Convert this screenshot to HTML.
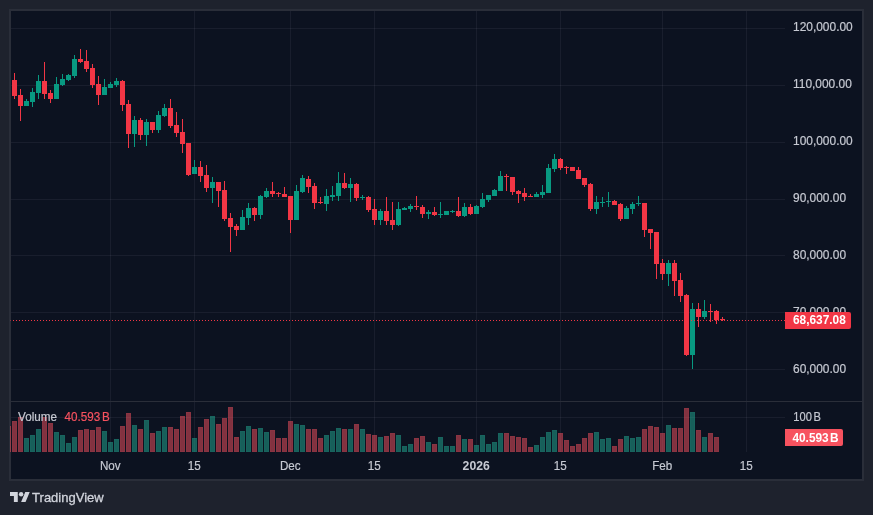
<!DOCTYPE html>
<html lang="en"><head><meta charset="utf-8"><title>TradingView Chart</title>
<style>
html,body{margin:0;padding:0;background:#1e222d;}
body{width:873px;height:515px;overflow:hidden;position:relative;font-family:"Liberation Sans",Arial,sans-serif;}
svg{position:absolute;left:0;top:0;display:block}
text{font-family:"Liberation Sans",Arial,sans-serif;font-size:12px;fill:#c6c9d2;}
.ax{font-size:12.5px;stroke:#c6c9d2;stroke-width:0.2px}
.b{font-weight:bold;fill:#fff;stroke:none}
</style></head><body>
<svg width="873" height="515" viewBox="0 0 873 515">
<rect x="0" y="0" width="873" height="515" fill="#1e222d"/>
<rect x="9" y="9" width="855" height="472" fill="#2a2e39"/>
<rect x="11" y="11" width="851" height="468" fill="#0c1220"/>
<g shape-rendering="crispEdges">
<rect x="11" y="28" width="774" height="1" fill="rgba(240,243,250,0.06)"/>
<rect x="11" y="85" width="774" height="1" fill="rgba(240,243,250,0.06)"/>
<rect x="11" y="142" width="774" height="1" fill="rgba(240,243,250,0.06)"/>
<rect x="11" y="199" width="774" height="1" fill="rgba(240,243,250,0.06)"/>
<rect x="11" y="255" width="774" height="1" fill="rgba(240,243,250,0.06)"/>
<rect x="11" y="312" width="774" height="1" fill="rgba(240,243,250,0.06)"/>
<rect x="11" y="369" width="774" height="1" fill="rgba(240,243,250,0.06)"/>
<rect x="11" y="417" width="774" height="1" fill="rgba(240,243,250,0.06)"/>
<rect x="110" y="11" width="1" height="441" fill="rgba(240,243,250,0.06)"/>
<rect x="194" y="11" width="1" height="441" fill="rgba(240,243,250,0.06)"/>
<rect x="290" y="11" width="1" height="441" fill="rgba(240,243,250,0.06)"/>
<rect x="374" y="11" width="1" height="441" fill="rgba(240,243,250,0.06)"/>
<rect x="476" y="11" width="1" height="441" fill="rgba(240,243,250,0.06)"/>
<rect x="560" y="11" width="1" height="441" fill="rgba(240,243,250,0.06)"/>
<rect x="662" y="11" width="1" height="441" fill="rgba(240,243,250,0.06)"/>
<rect x="746" y="11" width="1" height="441" fill="rgba(240,243,250,0.06)"/>
<rect x="11" y="401" width="851" height="1" fill="#2a2e39"/>
<rect x="10" y="426" width="1" height="26" fill="rgba(247,82,95,0.5)"/>
<rect x="12" y="421" width="5" height="31" fill="rgba(247,82,95,0.5)"/>
<rect x="18" y="417" width="5" height="35" fill="rgba(247,82,95,0.5)"/>
<rect x="24" y="438" width="5" height="14" fill="rgba(34,171,148,0.5)"/>
<rect x="30" y="435" width="5" height="17" fill="rgba(34,171,148,0.5)"/>
<rect x="36" y="429" width="5" height="23" fill="rgba(34,171,148,0.5)"/>
<rect x="42" y="417" width="5" height="35" fill="rgba(247,82,95,0.5)"/>
<rect x="48" y="423" width="5" height="29" fill="rgba(247,82,95,0.5)"/>
<rect x="54" y="432" width="5" height="20" fill="rgba(34,171,148,0.5)"/>
<rect x="60" y="435" width="5" height="17" fill="rgba(34,171,148,0.5)"/>
<rect x="66" y="443" width="5" height="9" fill="rgba(34,171,148,0.5)"/>
<rect x="72" y="437" width="5" height="15" fill="rgba(34,171,148,0.5)"/>
<rect x="78" y="430" width="5" height="22" fill="rgba(247,82,95,0.5)"/>
<rect x="84" y="429" width="5" height="23" fill="rgba(247,82,95,0.5)"/>
<rect x="90" y="430" width="5" height="22" fill="rgba(247,82,95,0.5)"/>
<rect x="96" y="427" width="5" height="25" fill="rgba(247,82,95,0.5)"/>
<rect x="102" y="431" width="5" height="21" fill="rgba(34,171,148,0.5)"/>
<rect x="108" y="442" width="5" height="10" fill="rgba(34,171,148,0.5)"/>
<rect x="114" y="439" width="5" height="13" fill="rgba(34,171,148,0.5)"/>
<rect x="120" y="426" width="5" height="26" fill="rgba(247,82,95,0.5)"/>
<rect x="126" y="413" width="5" height="39" fill="rgba(247,82,95,0.5)"/>
<rect x="132" y="425" width="5" height="27" fill="rgba(34,171,148,0.5)"/>
<rect x="138" y="429" width="5" height="23" fill="rgba(247,82,95,0.5)"/>
<rect x="144" y="420" width="5" height="32" fill="rgba(34,171,148,0.5)"/>
<rect x="150" y="433" width="5" height="19" fill="rgba(247,82,95,0.5)"/>
<rect x="156" y="431" width="5" height="21" fill="rgba(34,171,148,0.5)"/>
<rect x="162" y="427" width="5" height="25" fill="rgba(34,171,148,0.5)"/>
<rect x="168" y="427" width="5" height="25" fill="rgba(247,82,95,0.5)"/>
<rect x="174" y="429" width="5" height="23" fill="rgba(247,82,95,0.5)"/>
<rect x="180" y="416" width="5" height="36" fill="rgba(247,82,95,0.5)"/>
<rect x="186" y="412" width="5" height="40" fill="rgba(247,82,95,0.5)"/>
<rect x="192" y="438" width="5" height="14" fill="rgba(34,171,148,0.5)"/>
<rect x="198" y="427" width="5" height="25" fill="rgba(247,82,95,0.5)"/>
<rect x="204" y="419" width="5" height="33" fill="rgba(247,82,95,0.5)"/>
<rect x="210" y="416" width="5" height="36" fill="rgba(34,171,148,0.5)"/>
<rect x="216" y="424" width="5" height="28" fill="rgba(247,82,95,0.5)"/>
<rect x="222" y="418" width="5" height="34" fill="rgba(247,82,95,0.5)"/>
<rect x="228" y="407" width="5" height="45" fill="rgba(247,82,95,0.5)"/>
<rect x="234" y="437" width="5" height="15" fill="rgba(247,82,95,0.5)"/>
<rect x="240" y="431" width="5" height="21" fill="rgba(34,171,148,0.5)"/>
<rect x="246" y="426" width="5" height="26" fill="rgba(34,171,148,0.5)"/>
<rect x="252" y="429" width="5" height="23" fill="rgba(247,82,95,0.5)"/>
<rect x="258" y="428" width="5" height="24" fill="rgba(34,171,148,0.5)"/>
<rect x="264" y="432" width="5" height="20" fill="rgba(34,171,148,0.5)"/>
<rect x="270" y="430" width="5" height="22" fill="rgba(247,82,95,0.5)"/>
<rect x="276" y="438" width="5" height="14" fill="rgba(247,82,95,0.5)"/>
<rect x="282" y="438" width="5" height="14" fill="rgba(247,82,95,0.5)"/>
<rect x="288" y="421" width="5" height="31" fill="rgba(247,82,95,0.5)"/>
<rect x="294" y="424" width="5" height="28" fill="rgba(34,171,148,0.5)"/>
<rect x="300" y="425" width="5" height="27" fill="rgba(34,171,148,0.5)"/>
<rect x="306" y="429" width="5" height="23" fill="rgba(247,82,95,0.5)"/>
<rect x="312" y="429" width="5" height="23" fill="rgba(247,82,95,0.5)"/>
<rect x="318" y="438" width="5" height="14" fill="rgba(247,82,95,0.5)"/>
<rect x="324" y="435" width="5" height="17" fill="rgba(34,171,148,0.5)"/>
<rect x="330" y="431" width="5" height="21" fill="rgba(34,171,148,0.5)"/>
<rect x="336" y="428" width="5" height="24" fill="rgba(34,171,148,0.5)"/>
<rect x="342" y="429" width="5" height="23" fill="rgba(247,82,95,0.5)"/>
<rect x="348" y="429" width="5" height="23" fill="rgba(34,171,148,0.5)"/>
<rect x="354" y="424" width="5" height="28" fill="rgba(247,82,95,0.5)"/>
<rect x="360" y="429" width="5" height="23" fill="rgba(34,171,148,0.5)"/>
<rect x="366" y="434" width="5" height="18" fill="rgba(247,82,95,0.5)"/>
<rect x="372" y="435" width="5" height="17" fill="rgba(247,82,95,0.5)"/>
<rect x="378" y="437" width="5" height="15" fill="rgba(34,171,148,0.5)"/>
<rect x="384" y="436" width="5" height="16" fill="rgba(247,82,95,0.5)"/>
<rect x="390" y="433" width="5" height="19" fill="rgba(247,82,95,0.5)"/>
<rect x="396" y="435" width="5" height="17" fill="rgba(34,171,148,0.5)"/>
<rect x="402" y="446" width="5" height="6" fill="rgba(34,171,148,0.5)"/>
<rect x="408" y="444" width="5" height="8" fill="rgba(34,171,148,0.5)"/>
<rect x="414" y="438" width="5" height="14" fill="rgba(247,82,95,0.5)"/>
<rect x="420" y="436" width="5" height="16" fill="rgba(247,82,95,0.5)"/>
<rect x="426" y="442" width="5" height="10" fill="rgba(34,171,148,0.5)"/>
<rect x="432" y="444" width="5" height="8" fill="rgba(247,82,95,0.5)"/>
<rect x="438" y="437" width="5" height="15" fill="rgba(34,171,148,0.5)"/>
<rect x="444" y="446" width="5" height="6" fill="rgba(34,171,148,0.5)"/>
<rect x="450" y="446" width="5" height="6" fill="rgba(34,171,148,0.5)"/>
<rect x="456" y="435" width="5" height="17" fill="rgba(247,82,95,0.5)"/>
<rect x="462" y="439" width="5" height="13" fill="rgba(34,171,148,0.5)"/>
<rect x="468" y="439" width="5" height="13" fill="rgba(247,82,95,0.5)"/>
<rect x="474" y="445" width="5" height="7" fill="rgba(34,171,148,0.5)"/>
<rect x="480" y="435" width="5" height="17" fill="rgba(34,171,148,0.5)"/>
<rect x="486" y="444" width="5" height="8" fill="rgba(34,171,148,0.5)"/>
<rect x="492" y="442" width="5" height="10" fill="rgba(34,171,148,0.5)"/>
<rect x="498" y="433" width="5" height="19" fill="rgba(34,171,148,0.5)"/>
<rect x="504" y="433" width="5" height="19" fill="rgba(247,82,95,0.5)"/>
<rect x="510" y="436" width="5" height="16" fill="rgba(247,82,95,0.5)"/>
<rect x="516" y="437" width="5" height="15" fill="rgba(247,82,95,0.5)"/>
<rect x="522" y="438" width="5" height="14" fill="rgba(247,82,95,0.5)"/>
<rect x="528" y="447" width="5" height="5" fill="rgba(247,82,95,0.5)"/>
<rect x="534" y="445" width="5" height="7" fill="rgba(34,171,148,0.5)"/>
<rect x="540" y="437" width="5" height="15" fill="rgba(34,171,148,0.5)"/>
<rect x="546" y="432" width="5" height="20" fill="rgba(34,171,148,0.5)"/>
<rect x="552" y="430" width="5" height="22" fill="rgba(34,171,148,0.5)"/>
<rect x="558" y="433" width="5" height="19" fill="rgba(247,82,95,0.5)"/>
<rect x="564" y="440" width="5" height="12" fill="rgba(247,82,95,0.5)"/>
<rect x="570" y="446" width="5" height="6" fill="rgba(247,82,95,0.5)"/>
<rect x="576" y="444" width="5" height="8" fill="rgba(247,82,95,0.5)"/>
<rect x="582" y="438" width="5" height="14" fill="rgba(247,82,95,0.5)"/>
<rect x="588" y="433" width="5" height="19" fill="rgba(247,82,95,0.5)"/>
<rect x="594" y="432" width="5" height="20" fill="rgba(34,171,148,0.5)"/>
<rect x="600" y="439" width="5" height="13" fill="rgba(34,171,148,0.5)"/>
<rect x="606" y="438" width="5" height="14" fill="rgba(34,171,148,0.5)"/>
<rect x="612" y="446" width="5" height="6" fill="rgba(247,82,95,0.5)"/>
<rect x="618" y="439" width="5" height="13" fill="rgba(247,82,95,0.5)"/>
<rect x="624" y="436" width="5" height="16" fill="rgba(34,171,148,0.5)"/>
<rect x="630" y="438" width="5" height="14" fill="rgba(34,171,148,0.5)"/>
<rect x="636" y="437" width="5" height="15" fill="rgba(34,171,148,0.5)"/>
<rect x="642" y="429" width="5" height="23" fill="rgba(247,82,95,0.5)"/>
<rect x="648" y="426" width="5" height="26" fill="rgba(247,82,95,0.5)"/>
<rect x="654" y="427" width="5" height="25" fill="rgba(247,82,95,0.5)"/>
<rect x="660" y="433" width="5" height="19" fill="rgba(247,82,95,0.5)"/>
<rect x="666" y="425" width="5" height="27" fill="rgba(34,171,148,0.5)"/>
<rect x="672" y="428" width="5" height="24" fill="rgba(247,82,95,0.5)"/>
<rect x="678" y="428" width="5" height="24" fill="rgba(247,82,95,0.5)"/>
<rect x="684" y="408" width="5" height="44" fill="rgba(247,82,95,0.5)"/>
<rect x="690" y="412" width="5" height="40" fill="rgba(34,171,148,0.5)"/>
<rect x="696" y="430" width="5" height="22" fill="rgba(247,82,95,0.5)"/>
<rect x="702" y="437" width="5" height="15" fill="rgba(34,171,148,0.5)"/>
<rect x="708" y="433" width="5" height="19" fill="rgba(247,82,95,0.5)"/>
<rect x="714" y="437" width="5" height="15" fill="rgba(247,82,95,0.5)"/>
<path fill-rule="evenodd" d="M12 421h5v31h-5zM13 422h3v29h-3zM18 417h5v35h-5zM19 418h3v33h-3zM42 417h5v35h-5zM43 418h3v33h-3zM48 423h5v29h-5zM49 424h3v27h-3zM78 430h5v22h-5zM79 431h3v20h-3zM84 429h5v23h-5zM85 430h3v21h-3zM90 430h5v22h-5zM91 431h3v20h-3zM96 427h5v25h-5zM97 428h3v23h-3zM120 426h5v26h-5zM121 427h3v24h-3zM126 413h5v39h-5zM127 414h3v37h-3zM138 429h5v23h-5zM139 430h3v21h-3zM150 433h5v19h-5zM151 434h3v17h-3zM168 427h5v25h-5zM169 428h3v23h-3zM174 429h5v23h-5zM175 430h3v21h-3zM180 416h5v36h-5zM181 417h3v34h-3zM186 412h5v40h-5zM187 413h3v38h-3zM198 427h5v25h-5zM199 428h3v23h-3zM204 419h5v33h-5zM205 420h3v31h-3zM216 424h5v28h-5zM217 425h3v26h-3zM222 418h5v34h-5zM223 419h3v32h-3zM228 407h5v45h-5zM229 408h3v43h-3zM234 437h5v15h-5zM235 438h3v13h-3zM252 429h5v23h-5zM253 430h3v21h-3zM270 430h5v22h-5zM271 431h3v20h-3zM276 438h5v14h-5zM277 439h3v12h-3zM282 438h5v14h-5zM283 439h3v12h-3zM288 421h5v31h-5zM289 422h3v29h-3zM306 429h5v23h-5zM307 430h3v21h-3zM312 429h5v23h-5zM313 430h3v21h-3zM318 438h5v14h-5zM319 439h3v12h-3zM342 429h5v23h-5zM343 430h3v21h-3zM354 424h5v28h-5zM355 425h3v26h-3zM366 434h5v18h-5zM367 435h3v16h-3zM372 435h5v17h-5zM373 436h3v15h-3zM384 436h5v16h-5zM385 437h3v14h-3zM390 433h5v19h-5zM391 434h3v17h-3zM414 438h5v14h-5zM415 439h3v12h-3zM420 436h5v16h-5zM421 437h3v14h-3zM432 444h5v8h-5zM433 445h3v6h-3zM456 435h5v17h-5zM457 436h3v15h-3zM468 439h5v13h-5zM469 440h3v11h-3zM504 433h5v19h-5zM505 434h3v17h-3zM510 436h5v16h-5zM511 437h3v14h-3zM516 437h5v15h-5zM517 438h3v13h-3zM522 438h5v14h-5zM523 439h3v12h-3zM528 447h5v5h-5zM529 448h3v3h-3zM558 433h5v19h-5zM559 434h3v17h-3zM564 440h5v12h-5zM565 441h3v10h-3zM570 446h5v6h-5zM571 447h3v4h-3zM576 444h5v8h-5zM577 445h3v6h-3zM582 438h5v14h-5zM583 439h3v12h-3zM588 433h5v19h-5zM589 434h3v17h-3zM612 446h5v6h-5zM613 447h3v4h-3zM618 439h5v13h-5zM619 440h3v11h-3zM642 429h5v23h-5zM643 430h3v21h-3zM648 426h5v26h-5zM649 427h3v24h-3zM654 427h5v25h-5zM655 428h3v23h-3zM660 433h5v19h-5zM661 434h3v17h-3zM672 428h5v24h-5zM673 429h3v22h-3zM678 428h5v24h-5zM679 429h3v22h-3zM684 408h5v44h-5zM685 409h3v42h-3zM696 430h5v22h-5zM697 431h3v20h-3zM708 433h5v19h-5zM709 434h3v17h-3zM714 437h5v15h-5zM715 438h3v13h-3z" fill="rgba(247,82,95,0.08)"/>
<path fill-rule="evenodd" d="M24 438h5v14h-5zM25 439h3v12h-3zM30 435h5v17h-5zM31 436h3v15h-3zM36 429h5v23h-5zM37 430h3v21h-3zM54 432h5v20h-5zM55 433h3v18h-3zM60 435h5v17h-5zM61 436h3v15h-3zM66 443h5v9h-5zM67 444h3v7h-3zM72 437h5v15h-5zM73 438h3v13h-3zM102 431h5v21h-5zM103 432h3v19h-3zM108 442h5v10h-5zM109 443h3v8h-3zM114 439h5v13h-5zM115 440h3v11h-3zM132 425h5v27h-5zM133 426h3v25h-3zM144 420h5v32h-5zM145 421h3v30h-3zM156 431h5v21h-5zM157 432h3v19h-3zM162 427h5v25h-5zM163 428h3v23h-3zM192 438h5v14h-5zM193 439h3v12h-3zM210 416h5v36h-5zM211 417h3v34h-3zM240 431h5v21h-5zM241 432h3v19h-3zM246 426h5v26h-5zM247 427h3v24h-3zM258 428h5v24h-5zM259 429h3v22h-3zM264 432h5v20h-5zM265 433h3v18h-3zM294 424h5v28h-5zM295 425h3v26h-3zM300 425h5v27h-5zM301 426h3v25h-3zM324 435h5v17h-5zM325 436h3v15h-3zM330 431h5v21h-5zM331 432h3v19h-3zM336 428h5v24h-5zM337 429h3v22h-3zM348 429h5v23h-5zM349 430h3v21h-3zM360 429h5v23h-5zM361 430h3v21h-3zM378 437h5v15h-5zM379 438h3v13h-3zM396 435h5v17h-5zM397 436h3v15h-3zM402 446h5v6h-5zM403 447h3v4h-3zM408 444h5v8h-5zM409 445h3v6h-3zM426 442h5v10h-5zM427 443h3v8h-3zM438 437h5v15h-5zM439 438h3v13h-3zM444 446h5v6h-5zM445 447h3v4h-3zM450 446h5v6h-5zM451 447h3v4h-3zM462 439h5v13h-5zM463 440h3v11h-3zM474 445h5v7h-5zM475 446h3v5h-3zM480 435h5v17h-5zM481 436h3v15h-3zM486 444h5v8h-5zM487 445h3v6h-3zM492 442h5v10h-5zM493 443h3v8h-3zM498 433h5v19h-5zM499 434h3v17h-3zM534 445h5v7h-5zM535 446h3v5h-3zM540 437h5v15h-5zM541 438h3v13h-3zM546 432h5v20h-5zM547 433h3v18h-3zM552 430h5v22h-5zM553 431h3v20h-3zM594 432h5v20h-5zM595 433h3v18h-3zM600 439h5v13h-5zM601 440h3v11h-3zM606 438h5v14h-5zM607 439h3v12h-3zM624 436h5v16h-5zM625 437h3v14h-3zM630 438h5v14h-5zM631 439h3v12h-3zM636 437h5v15h-5zM637 438h3v13h-3zM666 425h5v27h-5zM667 426h3v25h-3zM690 412h5v40h-5zM691 413h3v38h-3zM702 437h5v15h-5zM703 438h3v13h-3z" fill="rgba(34,171,148,0.08)"/>
<rect x="14" y="73" width="1" height="26" fill="#f23645"/>
<rect x="12" y="80" width="5" height="16" fill="#f23645"/>
<rect x="20" y="89" width="1" height="32" fill="#f23645"/>
<rect x="18" y="95" width="5" height="11" fill="#f23645"/>
<rect x="26" y="99" width="1" height="7" fill="#089981"/>
<rect x="24" y="101" width="5" height="5" fill="#089981"/>
<rect x="32" y="88" width="1" height="19" fill="#089981"/>
<rect x="30" y="92" width="5" height="10" fill="#089981"/>
<rect x="38" y="75" width="1" height="24" fill="#089981"/>
<rect x="36" y="81" width="5" height="12" fill="#089981"/>
<rect x="44" y="62" width="1" height="37" fill="#f23645"/>
<rect x="42" y="81" width="5" height="13" fill="#f23645"/>
<rect x="50" y="90" width="1" height="13" fill="#f23645"/>
<rect x="48" y="93" width="5" height="6" fill="#f23645"/>
<rect x="56" y="77" width="1" height="22" fill="#089981"/>
<rect x="54" y="84" width="5" height="15" fill="#089981"/>
<rect x="62" y="74" width="1" height="12" fill="#089981"/>
<rect x="60" y="79" width="5" height="6" fill="#089981"/>
<rect x="68" y="74" width="1" height="7" fill="#089981"/>
<rect x="66" y="75" width="5" height="5" fill="#089981"/>
<rect x="74" y="55" width="1" height="23" fill="#089981"/>
<rect x="72" y="59" width="5" height="17" fill="#089981"/>
<rect x="80" y="49" width="1" height="14" fill="#f23645"/>
<rect x="78" y="59" width="5" height="3" fill="#f23645"/>
<rect x="86" y="50" width="1" height="22" fill="#f23645"/>
<rect x="84" y="61" width="5" height="8" fill="#f23645"/>
<rect x="92" y="64" width="1" height="24" fill="#f23645"/>
<rect x="90" y="68" width="5" height="17" fill="#f23645"/>
<rect x="98" y="76" width="1" height="29" fill="#f23645"/>
<rect x="96" y="84" width="5" height="11" fill="#f23645"/>
<rect x="104" y="79" width="1" height="16" fill="#089981"/>
<rect x="102" y="87" width="5" height="8" fill="#089981"/>
<rect x="110" y="82" width="1" height="6" fill="#089981"/>
<rect x="108" y="84" width="5" height="4" fill="#089981"/>
<rect x="116" y="78" width="1" height="9" fill="#089981"/>
<rect x="114" y="81" width="5" height="4" fill="#089981"/>
<rect x="122" y="80" width="1" height="31" fill="#f23645"/>
<rect x="120" y="81" width="5" height="24" fill="#f23645"/>
<rect x="128" y="100" width="1" height="48" fill="#f23645"/>
<rect x="126" y="104" width="5" height="30" fill="#f23645"/>
<rect x="134" y="116" width="1" height="31" fill="#089981"/>
<rect x="132" y="120" width="5" height="14" fill="#089981"/>
<rect x="140" y="118" width="1" height="22" fill="#f23645"/>
<rect x="138" y="120" width="5" height="15" fill="#f23645"/>
<rect x="146" y="119" width="1" height="27" fill="#089981"/>
<rect x="144" y="122" width="5" height="13" fill="#089981"/>
<rect x="152" y="122" width="1" height="11" fill="#f23645"/>
<rect x="150" y="122" width="5" height="8" fill="#f23645"/>
<rect x="158" y="111" width="1" height="22" fill="#089981"/>
<rect x="156" y="115" width="5" height="15" fill="#089981"/>
<rect x="164" y="104" width="1" height="13" fill="#089981"/>
<rect x="162" y="108" width="5" height="8" fill="#089981"/>
<rect x="170" y="99" width="1" height="29" fill="#f23645"/>
<rect x="168" y="108" width="5" height="18" fill="#f23645"/>
<rect x="176" y="112" width="1" height="25" fill="#f23645"/>
<rect x="174" y="125" width="5" height="8" fill="#f23645"/>
<rect x="182" y="119" width="1" height="34" fill="#f23645"/>
<rect x="180" y="132" width="5" height="12" fill="#f23645"/>
<rect x="188" y="143" width="1" height="33" fill="#f23645"/>
<rect x="186" y="143" width="5" height="32" fill="#f23645"/>
<rect x="194" y="160" width="1" height="14" fill="#089981"/>
<rect x="192" y="167" width="5" height="7" fill="#089981"/>
<rect x="200" y="161" width="1" height="21" fill="#f23645"/>
<rect x="198" y="167" width="5" height="9" fill="#f23645"/>
<rect x="206" y="165" width="1" height="27" fill="#f23645"/>
<rect x="204" y="175" width="5" height="13" fill="#f23645"/>
<rect x="212" y="177" width="1" height="26" fill="#089981"/>
<rect x="210" y="182" width="5" height="6" fill="#089981"/>
<rect x="218" y="182" width="1" height="25" fill="#f23645"/>
<rect x="216" y="182" width="5" height="9" fill="#f23645"/>
<rect x="224" y="181" width="1" height="40" fill="#f23645"/>
<rect x="222" y="190" width="5" height="29" fill="#f23645"/>
<rect x="230" y="213" width="1" height="39" fill="#f23645"/>
<rect x="228" y="218" width="5" height="9" fill="#f23645"/>
<rect x="236" y="224" width="1" height="12" fill="#f23645"/>
<rect x="234" y="226" width="5" height="4" fill="#f23645"/>
<rect x="242" y="210" width="1" height="20" fill="#089981"/>
<rect x="240" y="217" width="5" height="13" fill="#089981"/>
<rect x="248" y="203" width="1" height="22" fill="#089981"/>
<rect x="246" y="208" width="5" height="10" fill="#089981"/>
<rect x="254" y="207" width="1" height="14" fill="#f23645"/>
<rect x="252" y="208" width="5" height="7" fill="#f23645"/>
<rect x="260" y="195" width="1" height="24" fill="#089981"/>
<rect x="258" y="196" width="5" height="19" fill="#089981"/>
<rect x="266" y="188" width="1" height="10" fill="#089981"/>
<rect x="264" y="191" width="5" height="6" fill="#089981"/>
<rect x="272" y="182" width="1" height="15" fill="#f23645"/>
<rect x="270" y="191" width="5" height="3" fill="#f23645"/>
<rect x="278" y="192" width="1" height="5" fill="#f23645"/>
<rect x="276" y="193" width="5" height="1" fill="#f23645"/>
<rect x="284" y="187" width="1" height="10" fill="#f23645"/>
<rect x="282" y="194" width="5" height="3" fill="#f23645"/>
<rect x="290" y="196" width="1" height="37" fill="#f23645"/>
<rect x="288" y="196" width="5" height="24" fill="#f23645"/>
<rect x="296" y="185" width="1" height="35" fill="#089981"/>
<rect x="294" y="191" width="5" height="29" fill="#089981"/>
<rect x="302" y="175" width="1" height="18" fill="#089981"/>
<rect x="300" y="178" width="5" height="14" fill="#089981"/>
<rect x="308" y="176" width="1" height="17" fill="#f23645"/>
<rect x="306" y="179" width="5" height="8" fill="#f23645"/>
<rect x="314" y="183" width="1" height="26" fill="#f23645"/>
<rect x="312" y="186" width="5" height="17" fill="#f23645"/>
<rect x="320" y="197" width="1" height="7" fill="#f23645"/>
<rect x="318" y="202" width="5" height="1" fill="#f23645"/>
<rect x="326" y="189" width="1" height="22" fill="#089981"/>
<rect x="324" y="196" width="5" height="8" fill="#089981"/>
<rect x="332" y="186" width="1" height="15" fill="#089981"/>
<rect x="330" y="195" width="5" height="2" fill="#089981"/>
<rect x="338" y="172" width="1" height="29" fill="#089981"/>
<rect x="336" y="183" width="5" height="13" fill="#089981"/>
<rect x="344" y="173" width="1" height="16" fill="#f23645"/>
<rect x="342" y="183" width="5" height="5" fill="#f23645"/>
<rect x="350" y="178" width="1" height="24" fill="#089981"/>
<rect x="348" y="184" width="5" height="4" fill="#089981"/>
<rect x="356" y="183" width="1" height="18" fill="#f23645"/>
<rect x="354" y="184" width="5" height="14" fill="#f23645"/>
<rect x="362" y="195" width="1" height="5" fill="#089981"/>
<rect x="360" y="197" width="5" height="1" fill="#089981"/>
<rect x="368" y="196" width="1" height="16" fill="#f23645"/>
<rect x="366" y="197" width="5" height="13" fill="#f23645"/>
<rect x="374" y="199" width="1" height="26" fill="#f23645"/>
<rect x="372" y="209" width="5" height="11" fill="#f23645"/>
<rect x="380" y="209" width="1" height="16" fill="#089981"/>
<rect x="378" y="211" width="5" height="9" fill="#089981"/>
<rect x="386" y="197" width="1" height="28" fill="#f23645"/>
<rect x="384" y="211" width="5" height="10" fill="#f23645"/>
<rect x="392" y="202" width="1" height="28" fill="#f23645"/>
<rect x="390" y="220" width="5" height="5" fill="#f23645"/>
<rect x="398" y="202" width="1" height="24" fill="#089981"/>
<rect x="396" y="209" width="5" height="16" fill="#089981"/>
<rect x="404" y="207" width="1" height="3" fill="#089981"/>
<rect x="402" y="208" width="5" height="2" fill="#089981"/>
<rect x="410" y="204" width="1" height="8" fill="#089981"/>
<rect x="408" y="206" width="5" height="3" fill="#089981"/>
<rect x="416" y="196" width="1" height="14" fill="#f23645"/>
<rect x="414" y="206" width="5" height="1" fill="#f23645"/>
<rect x="422" y="205" width="1" height="13" fill="#f23645"/>
<rect x="420" y="207" width="5" height="7" fill="#f23645"/>
<rect x="428" y="210" width="1" height="9" fill="#089981"/>
<rect x="426" y="212" width="5" height="2" fill="#089981"/>
<rect x="434" y="207" width="1" height="9" fill="#f23645"/>
<rect x="432" y="212" width="5" height="3" fill="#f23645"/>
<rect x="440" y="202" width="1" height="16" fill="#089981"/>
<rect x="438" y="214" width="5" height="1" fill="#089981"/>
<rect x="444" y="211" width="5" height="4" fill="#089981"/>
<rect x="452" y="210" width="1" height="3" fill="#089981"/>
<rect x="450" y="211" width="5" height="1" fill="#089981"/>
<rect x="458" y="197" width="1" height="20" fill="#f23645"/>
<rect x="456" y="211" width="5" height="5" fill="#f23645"/>
<rect x="464" y="203" width="1" height="14" fill="#089981"/>
<rect x="462" y="207" width="5" height="9" fill="#089981"/>
<rect x="470" y="204" width="1" height="11" fill="#f23645"/>
<rect x="468" y="207" width="5" height="7" fill="#f23645"/>
<rect x="476" y="205" width="1" height="9" fill="#089981"/>
<rect x="474" y="206" width="5" height="8" fill="#089981"/>
<rect x="482" y="193" width="1" height="15" fill="#089981"/>
<rect x="480" y="199" width="5" height="8" fill="#089981"/>
<rect x="488" y="195" width="1" height="7" fill="#089981"/>
<rect x="486" y="195" width="5" height="5" fill="#089981"/>
<rect x="494" y="189" width="1" height="7" fill="#089981"/>
<rect x="492" y="190" width="5" height="6" fill="#089981"/>
<rect x="500" y="171" width="1" height="20" fill="#089981"/>
<rect x="498" y="176" width="5" height="15" fill="#089981"/>
<rect x="506" y="174" width="1" height="17" fill="#f23645"/>
<rect x="504" y="176" width="5" height="1" fill="#f23645"/>
<rect x="512" y="177" width="1" height="18" fill="#f23645"/>
<rect x="510" y="177" width="5" height="15" fill="#f23645"/>
<rect x="518" y="190" width="1" height="13" fill="#f23645"/>
<rect x="516" y="191" width="5" height="3" fill="#f23645"/>
<rect x="524" y="188" width="1" height="13" fill="#f23645"/>
<rect x="522" y="193" width="5" height="4" fill="#f23645"/>
<rect x="530" y="194" width="1" height="3" fill="#f23645"/>
<rect x="528" y="196" width="5" height="1" fill="#f23645"/>
<rect x="536" y="192" width="1" height="5" fill="#089981"/>
<rect x="534" y="194" width="5" height="3" fill="#089981"/>
<rect x="542" y="185" width="1" height="13" fill="#089981"/>
<rect x="540" y="192" width="5" height="3" fill="#089981"/>
<rect x="548" y="164" width="1" height="29" fill="#089981"/>
<rect x="546" y="168" width="5" height="25" fill="#089981"/>
<rect x="554" y="154" width="1" height="18" fill="#089981"/>
<rect x="552" y="159" width="5" height="10" fill="#089981"/>
<rect x="560" y="158" width="1" height="12" fill="#f23645"/>
<rect x="558" y="159" width="5" height="9" fill="#f23645"/>
<rect x="566" y="166" width="1" height="8" fill="#f23645"/>
<rect x="564" y="167" width="5" height="1" fill="#f23645"/>
<rect x="570" y="167" width="5" height="4" fill="#f23645"/>
<rect x="578" y="167" width="1" height="12" fill="#f23645"/>
<rect x="576" y="170" width="5" height="9" fill="#f23645"/>
<rect x="584" y="178" width="1" height="9" fill="#f23645"/>
<rect x="582" y="178" width="5" height="7" fill="#f23645"/>
<rect x="590" y="183" width="1" height="28" fill="#f23645"/>
<rect x="588" y="184" width="5" height="25" fill="#f23645"/>
<rect x="596" y="196" width="1" height="18" fill="#089981"/>
<rect x="594" y="202" width="5" height="7" fill="#089981"/>
<rect x="602" y="197" width="1" height="10" fill="#089981"/>
<rect x="600" y="202" width="5" height="1" fill="#089981"/>
<rect x="608" y="192" width="1" height="15" fill="#089981"/>
<rect x="606" y="201" width="5" height="1" fill="#089981"/>
<rect x="614" y="200" width="1" height="5" fill="#f23645"/>
<rect x="612" y="201" width="5" height="4" fill="#f23645"/>
<rect x="620" y="203" width="1" height="18" fill="#f23645"/>
<rect x="618" y="204" width="5" height="15" fill="#f23645"/>
<rect x="626" y="206" width="1" height="13" fill="#089981"/>
<rect x="624" y="208" width="5" height="11" fill="#089981"/>
<rect x="632" y="202" width="1" height="12" fill="#089981"/>
<rect x="630" y="204" width="5" height="5" fill="#089981"/>
<rect x="638" y="196" width="1" height="10" fill="#089981"/>
<rect x="636" y="203" width="5" height="1" fill="#089981"/>
<rect x="644" y="203" width="1" height="34" fill="#f23645"/>
<rect x="642" y="203" width="5" height="27" fill="#f23645"/>
<rect x="650" y="229" width="1" height="20" fill="#f23645"/>
<rect x="648" y="229" width="5" height="4" fill="#f23645"/>
<rect x="656" y="232" width="1" height="47" fill="#f23645"/>
<rect x="654" y="232" width="5" height="32" fill="#f23645"/>
<rect x="662" y="259" width="1" height="21" fill="#f23645"/>
<rect x="660" y="263" width="5" height="11" fill="#f23645"/>
<rect x="668" y="260" width="1" height="26" fill="#089981"/>
<rect x="666" y="263" width="5" height="11" fill="#089981"/>
<rect x="674" y="260" width="1" height="36" fill="#f23645"/>
<rect x="672" y="263" width="5" height="18" fill="#f23645"/>
<rect x="680" y="273" width="1" height="29" fill="#f23645"/>
<rect x="678" y="280" width="5" height="16" fill="#f23645"/>
<rect x="686" y="294" width="1" height="62" fill="#f23645"/>
<rect x="684" y="295" width="5" height="60" fill="#f23645"/>
<rect x="692" y="303" width="1" height="66" fill="#089981"/>
<rect x="690" y="309" width="5" height="46" fill="#089981"/>
<rect x="698" y="303" width="1" height="24" fill="#f23645"/>
<rect x="696" y="309" width="5" height="8" fill="#f23645"/>
<rect x="704" y="300" width="1" height="19" fill="#089981"/>
<rect x="702" y="311" width="5" height="6" fill="#089981"/>
<rect x="710" y="304" width="1" height="18" fill="#f23645"/>
<rect x="708" y="311" width="5" height="1" fill="#f23645"/>
<rect x="716" y="310" width="1" height="14" fill="#f23645"/>
<rect x="714" y="311" width="5" height="9" fill="#f23645"/>
<rect x="722" y="317" width="1" height="4" fill="#f23645"/>
<rect x="720" y="319" width="5" height="1" fill="#f23645"/>
<path d="M13 320h1v1h-1zM16 320h1v1h-1zM19 320h1v1h-1zM22 320h1v1h-1zM25 320h1v1h-1zM28 320h1v1h-1zM31 320h1v1h-1zM34 320h1v1h-1zM37 320h1v1h-1zM40 320h1v1h-1zM43 320h1v1h-1zM46 320h1v1h-1zM49 320h1v1h-1zM52 320h1v1h-1zM55 320h1v1h-1zM58 320h1v1h-1zM61 320h1v1h-1zM64 320h1v1h-1zM67 320h1v1h-1zM70 320h1v1h-1zM73 320h1v1h-1zM76 320h1v1h-1zM79 320h1v1h-1zM82 320h1v1h-1zM85 320h1v1h-1zM88 320h1v1h-1zM91 320h1v1h-1zM94 320h1v1h-1zM97 320h1v1h-1zM100 320h1v1h-1zM103 320h1v1h-1zM106 320h1v1h-1zM109 320h1v1h-1zM112 320h1v1h-1zM115 320h1v1h-1zM118 320h1v1h-1zM121 320h1v1h-1zM124 320h1v1h-1zM127 320h1v1h-1zM130 320h1v1h-1zM133 320h1v1h-1zM136 320h1v1h-1zM139 320h1v1h-1zM142 320h1v1h-1zM145 320h1v1h-1zM148 320h1v1h-1zM151 320h1v1h-1zM154 320h1v1h-1zM157 320h1v1h-1zM160 320h1v1h-1zM163 320h1v1h-1zM166 320h1v1h-1zM169 320h1v1h-1zM172 320h1v1h-1zM175 320h1v1h-1zM178 320h1v1h-1zM181 320h1v1h-1zM184 320h1v1h-1zM187 320h1v1h-1zM190 320h1v1h-1zM193 320h1v1h-1zM196 320h1v1h-1zM199 320h1v1h-1zM202 320h1v1h-1zM205 320h1v1h-1zM208 320h1v1h-1zM211 320h1v1h-1zM214 320h1v1h-1zM217 320h1v1h-1zM220 320h1v1h-1zM223 320h1v1h-1zM226 320h1v1h-1zM229 320h1v1h-1zM232 320h1v1h-1zM235 320h1v1h-1zM238 320h1v1h-1zM241 320h1v1h-1zM244 320h1v1h-1zM247 320h1v1h-1zM250 320h1v1h-1zM253 320h1v1h-1zM256 320h1v1h-1zM259 320h1v1h-1zM262 320h1v1h-1zM265 320h1v1h-1zM268 320h1v1h-1zM271 320h1v1h-1zM274 320h1v1h-1zM277 320h1v1h-1zM280 320h1v1h-1zM283 320h1v1h-1zM286 320h1v1h-1zM289 320h1v1h-1zM292 320h1v1h-1zM295 320h1v1h-1zM298 320h1v1h-1zM301 320h1v1h-1zM304 320h1v1h-1zM307 320h1v1h-1zM310 320h1v1h-1zM313 320h1v1h-1zM316 320h1v1h-1zM319 320h1v1h-1zM322 320h1v1h-1zM325 320h1v1h-1zM328 320h1v1h-1zM331 320h1v1h-1zM334 320h1v1h-1zM337 320h1v1h-1zM340 320h1v1h-1zM343 320h1v1h-1zM346 320h1v1h-1zM349 320h1v1h-1zM352 320h1v1h-1zM355 320h1v1h-1zM358 320h1v1h-1zM361 320h1v1h-1zM364 320h1v1h-1zM367 320h1v1h-1zM370 320h1v1h-1zM373 320h1v1h-1zM376 320h1v1h-1zM379 320h1v1h-1zM382 320h1v1h-1zM385 320h1v1h-1zM388 320h1v1h-1zM391 320h1v1h-1zM394 320h1v1h-1zM397 320h1v1h-1zM400 320h1v1h-1zM403 320h1v1h-1zM406 320h1v1h-1zM409 320h1v1h-1zM412 320h1v1h-1zM415 320h1v1h-1zM418 320h1v1h-1zM421 320h1v1h-1zM424 320h1v1h-1zM427 320h1v1h-1zM430 320h1v1h-1zM433 320h1v1h-1zM436 320h1v1h-1zM439 320h1v1h-1zM442 320h1v1h-1zM445 320h1v1h-1zM448 320h1v1h-1zM451 320h1v1h-1zM454 320h1v1h-1zM457 320h1v1h-1zM460 320h1v1h-1zM463 320h1v1h-1zM466 320h1v1h-1zM469 320h1v1h-1zM472 320h1v1h-1zM475 320h1v1h-1zM478 320h1v1h-1zM481 320h1v1h-1zM484 320h1v1h-1zM487 320h1v1h-1zM490 320h1v1h-1zM493 320h1v1h-1zM496 320h1v1h-1zM499 320h1v1h-1zM502 320h1v1h-1zM505 320h1v1h-1zM508 320h1v1h-1zM511 320h1v1h-1zM514 320h1v1h-1zM517 320h1v1h-1zM520 320h1v1h-1zM523 320h1v1h-1zM526 320h1v1h-1zM529 320h1v1h-1zM532 320h1v1h-1zM535 320h1v1h-1zM538 320h1v1h-1zM541 320h1v1h-1zM544 320h1v1h-1zM547 320h1v1h-1zM550 320h1v1h-1zM553 320h1v1h-1zM556 320h1v1h-1zM559 320h1v1h-1zM562 320h1v1h-1zM565 320h1v1h-1zM568 320h1v1h-1zM571 320h1v1h-1zM574 320h1v1h-1zM577 320h1v1h-1zM580 320h1v1h-1zM583 320h1v1h-1zM586 320h1v1h-1zM589 320h1v1h-1zM592 320h1v1h-1zM595 320h1v1h-1zM598 320h1v1h-1zM601 320h1v1h-1zM604 320h1v1h-1zM607 320h1v1h-1zM610 320h1v1h-1zM613 320h1v1h-1zM616 320h1v1h-1zM619 320h1v1h-1zM622 320h1v1h-1zM625 320h1v1h-1zM628 320h1v1h-1zM631 320h1v1h-1zM634 320h1v1h-1zM637 320h1v1h-1zM640 320h1v1h-1zM643 320h1v1h-1zM646 320h1v1h-1zM649 320h1v1h-1zM652 320h1v1h-1zM655 320h1v1h-1zM658 320h1v1h-1zM661 320h1v1h-1zM664 320h1v1h-1zM667 320h1v1h-1zM670 320h1v1h-1zM673 320h1v1h-1zM676 320h1v1h-1zM679 320h1v1h-1zM682 320h1v1h-1zM685 320h1v1h-1zM688 320h1v1h-1zM691 320h1v1h-1zM694 320h1v1h-1zM697 320h1v1h-1zM700 320h1v1h-1zM703 320h1v1h-1zM706 320h1v1h-1zM709 320h1v1h-1zM712 320h1v1h-1zM715 320h1v1h-1zM718 320h1v1h-1zM721 320h1v1h-1zM724 320h1v1h-1zM727 320h1v1h-1zM730 320h1v1h-1zM733 320h1v1h-1zM736 320h1v1h-1zM739 320h1v1h-1zM742 320h1v1h-1zM745 320h1v1h-1zM748 320h1v1h-1zM751 320h1v1h-1zM754 320h1v1h-1zM757 320h1v1h-1zM760 320h1v1h-1zM763 320h1v1h-1zM766 320h1v1h-1zM769 320h1v1h-1zM772 320h1v1h-1zM775 320h1v1h-1zM778 320h1v1h-1zM781 320h1v1h-1zM784 320h1v1h-1z" fill="#f23645"/>
<rect x="10" y="320" width="1" height="1" fill="rgba(242,54,69,0.45)"/>
</g>
<text class="ax" transform="translate(793.0,31) scale(0.955,1)" text-anchor="start">120,000.00</text>
<text class="ax" transform="translate(793.0,88) scale(0.955,1)" text-anchor="start">110,000.00</text>
<text class="ax" transform="translate(793.0,145) scale(0.955,1)" text-anchor="start">100,000.00</text>
<text class="ax" transform="translate(793.0,202) scale(0.955,1)" text-anchor="start">90,000.00</text>
<text class="ax" transform="translate(793.0,259) scale(0.955,1)" text-anchor="start">80,000.00</text>
<text class="ax" transform="translate(793.0,316) scale(0.955,1)" text-anchor="start">70,000.00</text>
<text class="ax" transform="translate(793.0,373) scale(0.955,1)" text-anchor="start">60,000.00</text>
<text class="ax" transform="translate(793.3,421) scale(0.89,1)" text-anchor="start" style="word-spacing:-1.6px">100 B</text>
<path d="M785 312h64a2 2 0 0 1 2 2v13a2 2 0 0 1 -2 2h-64z" fill="#f23645"/>
<text class="ax b" transform="translate(793.0,324) scale(0.95,1)" text-anchor="start">68,637.08</text>
<path d="M785 429h56a2 2 0 0 1 2 2v13a2 2 0 0 1 -2 2h-56z" fill="#f7525f"/>
<text class="ax b" transform="translate(792.4,442) scale(0.95,1)" text-anchor="start" style="word-spacing:-2.0px">40.593 B</text>
<text class="ax" transform="translate(110.2,470) scale(0.93,1)" text-anchor="middle">Nov</text>
<text class="ax" transform="translate(194.2,470) scale(0.93,1)" text-anchor="middle">15</text>
<text class="ax" transform="translate(290.2,470) scale(0.93,1)" text-anchor="middle">Dec</text>
<text class="ax" transform="translate(374.2,470) scale(0.93,1)" text-anchor="middle">15</text>
<text class="ax" transform="translate(476.2,470) scale(0.98,1)" text-anchor="middle" style="font-weight:bold;stroke:none">2026</text>
<text class="ax" transform="translate(560.2,470) scale(0.93,1)" text-anchor="middle">15</text>
<text class="ax" transform="translate(662.2,470) scale(0.93,1)" text-anchor="middle">Feb</text>
<text class="ax" transform="translate(746.2,470) scale(0.93,1)" text-anchor="middle">15</text>
<text class="ax" transform="translate(18,421) scale(0.935,1)" text-anchor="start">Volume</text>
<text class="ax" transform="translate(64.5,421) scale(0.935,1)" text-anchor="start" style="fill:#f7525f;stroke:#f7525f;word-spacing:-1.6px">40.593 B</text>
<g transform="translate(10,489.8) scale(0.5556)" fill="#d1d4dc"><path d="M14 22H7V11H0V4h14v18zM28 22h-8l7.5-18h8L28 22z"/><circle cx="20" cy="8" r="4"/></g>
<text x="32.1" y="502" style="font-size:13px;letter-spacing:0px;fill:#d1d4dc;stroke:#d1d4dc;stroke-width:0.3px">TradingView</text>
</svg></body></html>
